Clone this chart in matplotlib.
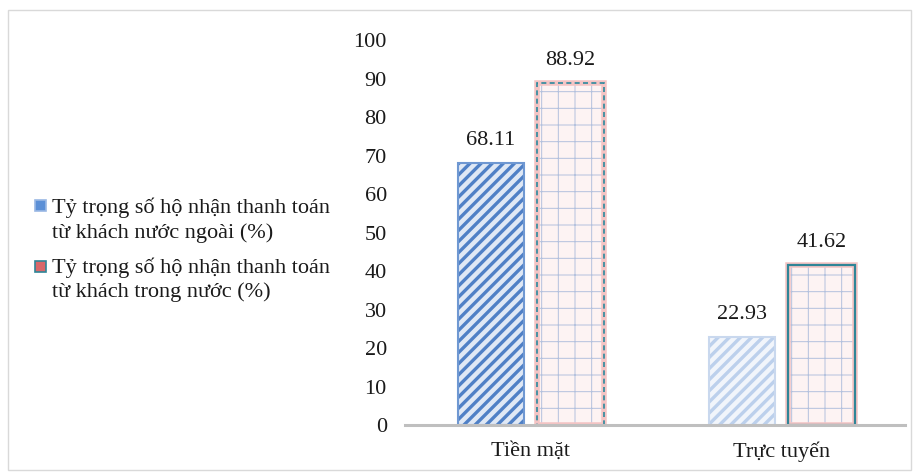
import matplotlib
matplotlib.use("Agg")
from matplotlib import pyplot as plt
from matplotlib.patches import Rectangle
import numpy as np

plt.rcParams['font.family'] = ['Liberation Serif', 'DejaVu Serif']

categories = ["Tiền mặt", "Trực tuyến"]
foreign_share = [68.11, 22.93]
domestic_share = [88.92, 41.62]
series_labels = [["Tỷ trọng số hộ nhận thanh toán", "từ khách nước ngoài (%)"],
                 ["Tỷ trọng số hộ nhận thanh toán", "từ khách trong nước (%)"]]

fig = plt.figure(figsize=(9.14, 4.72), dpi=100)
ax = fig.add_axes([0.443, 0.0996, 0.547, 0.8154])

x = np.arange(len(categories))
w = 0.265
off = 0.158

# series 1: blue diagonal stripes, second bar paler
face1 = ["#dfe8f5", "#f1f5fb"]
hatch1 = ["#4f80c6", "#bcd0ec"]
edge1 = ["#6f98d2", "#c9d8ee"]
plt.rcParams['hatch.linewidth'] = 2.4
for i in range(len(categories)):
    ax.bar(x[i] - off, foreign_share[i], w, color=face1[i], edgecolor=hatch1[i],
           hatch="///", linewidth=0, zorder=2)
    ax.bar(x[i] - off, foreign_share[i], w, fill=False, edgecolor=edge1[i],
           linewidth=1.5, zorder=3)

# series 2: pink fill with thin grid
plt.rcParams['hatch.linewidth'] = 0.7
for i in range(len(categories)):
    ax.bar(x[i] + off, domestic_share[i], w, color="#fdf3f3", edgecolor="#b3c1de",
           hatch="+", linewidth=0, zorder=2)
    ax.bar(x[i] + off, domestic_share[i], w, fill=False, edgecolor="#f4c4c4",
           linewidth=4, zorder=3)
ax.bar(x[0] + off, domestic_share[0], w, fill=False, edgecolor="#2b8a9e",
       linewidth=1.2, linestyle=(0, (3, 2)), zorder=4)
ax.bar(x[1] + off, domestic_share[1], w, fill=False, edgecolor="#2f8597",
       linewidth=1.6, zorder=4)

for i in range(len(categories)):
    ax.annotate(f"{foreign_share[i]:.2f}", (x[i] - off, foreign_share[i]),
                xytext=(0, 9), textcoords="offset points", ha="center",
                va="bottom", fontsize=16, color="#1a1a1a")
    ax.annotate(f"{domestic_share[i]:.2f}", (x[i] + off, domestic_share[i]),
                xytext=(0, 9), textcoords="offset points", ha="center",
                va="bottom", fontsize=16, color="#1a1a1a")

ax.set_xlim(-0.5, 1.49)
ax.set_ylim(0, 100)
ax.set_yticks(range(0, 101, 10))
ax.set_xticks(x)
ax.set_xticklabels(categories)
ax.tick_params(axis="both", length=0, labelsize=16, colors="#1a1a1a")
ax.tick_params(axis="y", pad=13)
ax.tick_params(axis="x", pad=12)
for s in ["top", "right", "left"]:
    ax.spines[s].set_visible(False)
ax.spines["bottom"].set_color("#bfbfbf")
ax.spines["bottom"].set_linewidth(2.2)
ax.spines["bottom"].set_zorder(5)

# legend drawn by hand so the square sits on the first line, like the original
key_colors = [("#5b8fd6", "#9ab8e4"), ("#d9676a", "#2f8597")]
key_bottoms = [0.553, 0.424]
line_baselines = [[0.5487, 0.4958], [0.4216, 0.3708]]
for k in range(2):
    fig.patches.append(Rectangle((0.0383, key_bottoms[k]), 0.012, 0.0233,
                                 transform=fig.transFigure, facecolor=key_colors[k][0],
                                 edgecolor=key_colors[k][1], linewidth=1.2))
    for line, yb in zip(series_labels[k], line_baselines[k]):
        fig.text(0.0569, yb, line, fontsize=16, color="#1a1a1a", va="baseline")

fig.patches.append(Rectangle((0.009, 0.004), 0.988, 0.975, transform=fig.transFigure,
                             fill=False, edgecolor="#d9d9d9", linewidth=1))

fig.savefig("out.png", dpi=100)
